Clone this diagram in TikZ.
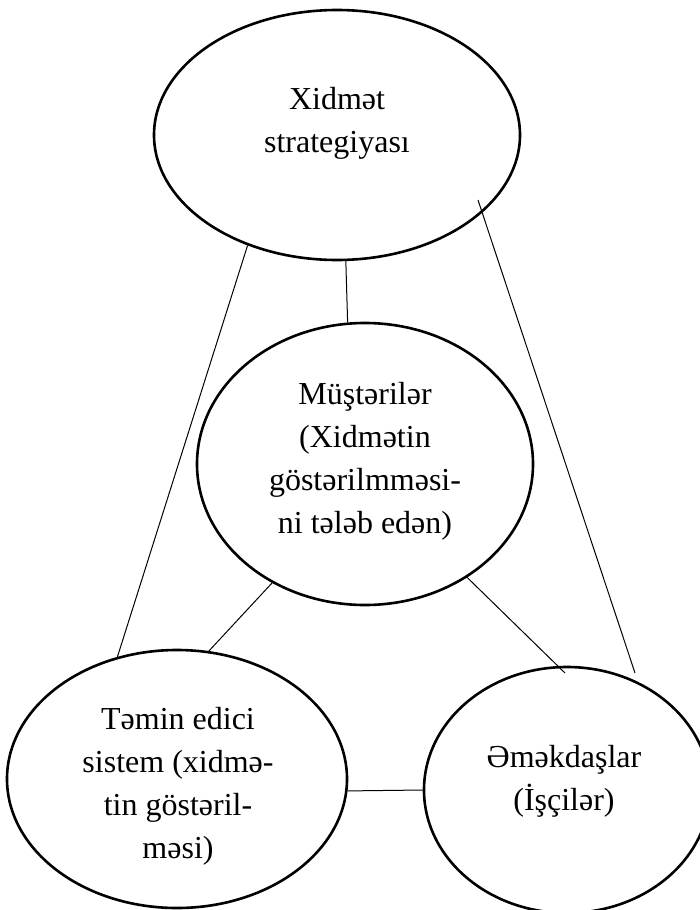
\documentclass[tikz,border=0pt]{standalone}
\usepackage{fontspec}
\setmainfont{Liberation Serif}
\usetikzlibrary{shapes.geometric}
\begin{document}
\begin{tikzpicture}[x=1pt,y=-1pt,
  oval/.style={draw,ellipse,line width=2.6pt,inner sep=0pt,fill=white},
  lbl/.style={align=center,inner sep=0pt,font=\fontsize{32}{43}\selectfont},
  link/.style={line width=1pt}]
\useasboundingbox (0,0) rectangle (700,910);
\fill[white] (0,0) rectangle (700,910);
\node[oval,minimum width=366pt,minimum height=250pt] (strat) at (337,135) {};
\node[oval,minimum width=336pt,minimum height=282pt] (cust) at (365,464) {};
\node[oval,minimum width=340pt,minimum height=258pt] (supp) at (177,779) {};
\node[oval,minimum width=286pt,minimum height=246pt] (staff) at (567,790) {};
\coordinate (rA) at (478,200);
\coordinate (rB) at (635,673);
\coordinate (cB) at (565,673);
\draw[link] (strat.231) -- (supp.116);
\draw[link] (strat.274) -- (cust.97);
\draw[link] (rA) -- (rB);
\draw[link] (cust.232) -- (supp.76);
\draw[link] (cust.312) -- (cB);
\draw[link] (supp.-4) -- (staff.west);
\node[lbl] (stratT) at (337,123.5) {Xidmət\\strategiyası};
\node[lbl] (custT) at (365,461.5) {Müştərilər\\(Xidmətin\\göstərilmməsi-\\ni tələb edən)};
\node[lbl] (suppT) at (178,786.5) {Təmin edici\\sistem (xidmə-\\tin göstəril-\\məsi)};
\node[lbl] (staffT) at (564,781) {Əməkdaşlar\\(İşçilər)};
\end{tikzpicture}
\end{document}
